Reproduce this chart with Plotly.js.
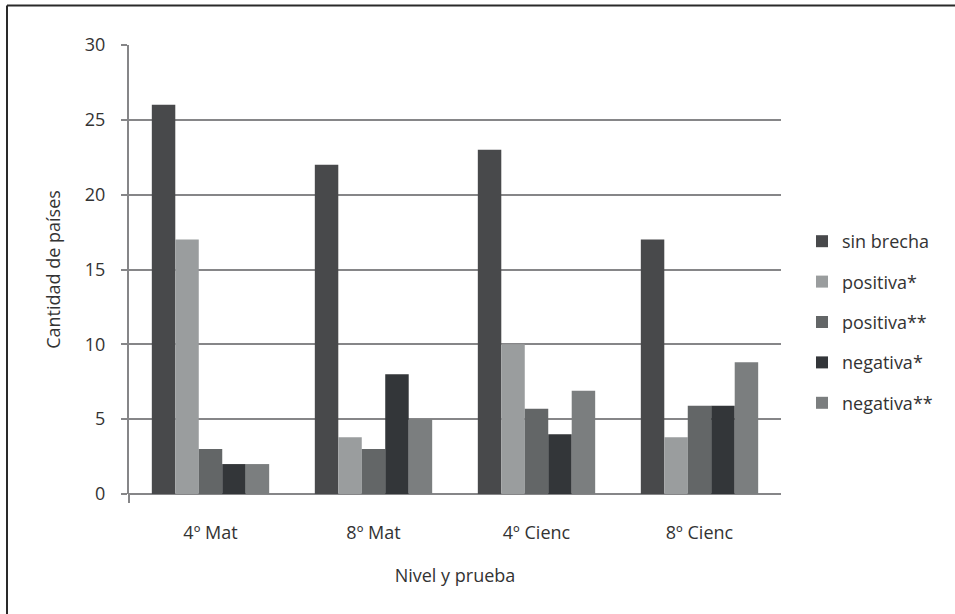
<!DOCTYPE html>
<html>
<head>
<meta charset="utf-8">
<script src="https://cdn.plot.ly/plotly-3.0.1.min.js"></script>
<style>html,body{margin:0;padding:0;background:#fff;}#chart{width:955px;height:614px;}</style>
</head>
<body>
<div id="chart"></div>
<script>
var categories = ["4º Mat", "8º Mat", "4º Cienc", "8º Cienc"];
var seriesNames = ["sin brecha", "positiva*", "positiva**", "negativa*", "negativa**"];
var sinBrecha = [26, 22, 23, 17];
var positiva1 = [17, 3.8, 10, 3.8];
var positiva2 = [3, 3, 5.7, 5.9];
var negativa1 = [2, 8, 4, 5.9];
var negativa2 = [2, 5, 6.9, 8.8];
var yTicks = [0, 5, 10, 15, 20, 25, 30];

var seriesValues = [sinBrecha, positiva1, positiva2, negativa1, negativa2];
var colors = ["#48494b", "#9a9d9e", "#636667", "#333639", "#7b7e7f"];

var traces = seriesNames.map(function (name, i) {
  return {
    type: "bar",
    name: name,
    x: categories,
    y: seriesValues[i],
    marker: { color: colors[i], line: { width: 0 } },
    legendgroup: "g" + i,
    hoverinfo: "x+y+name"
  };
});

var W = 955, H = 614, L = 129, R = 174, T = 45, B = 120;
var pw = W - L - R, ph = H - T - B;
function px2x(p) { return (p - L) / pw; }
function py2y(p) { return (H - B - p) / ph; }

var font = { family: "Open Sans, Noto Sans, sans-serif", size: 18, color: "#333333" };

var layout = {
  width: W, height: H,
  margin: { l: L, r: R, t: T, b: B, pad: 0 },
  paper_bgcolor: "#ffffff", plot_bgcolor: "#ffffff",
  font: font,
  barmode: "group",
  bargap: 0.28,
  bargroupgap: 0,
  showlegend: true,
  legend: {
    x: px2x(802), xanchor: "left",
    y: py2y(223), yanchor: "top",
    font: font,
    traceorder: "grouped",
    tracegroupgap: 14,
    bgcolor: "rgba(0,0,0,0)"
  },
  xaxis: {
    type: "category",
    showgrid: false,
    showline: false,
    ticks: "",
    tickfont: font,
    ticklabelstandoff: 26,
    title: { text: "Nivel y prueba", font: font, standoff: 26 },
    zeroline: false
  },
  yaxis: {
    range: [0, 30],
    tickvals: yTicks,
    ticktext: yTicks.map(String),
    showgrid: true,
    gridcolor: "#868688",
    gridwidth: 2,
    zeroline: true,
    zerolinecolor: "#868688",
    zerolinewidth: 2,
    showline: true,
    linecolor: "#868688",
    linewidth: 2,
    ticks: "outside",
    ticklen: 6,
    tickwidth: 2,
    tickcolor: "#868688",
    tickfont: font,
    ticklabelstandoff: 12,
    title: { text: "Cantidad de países", font: font, standoff: 20 }
  },
  shapes: [
    {
      type: "line", xref: "paper", yref: "paper",
      x0: 0, x1: 0, y0: 0, y1: py2y(503),
      line: { color: "#868688", width: 2 }
    },
    {
      type: "line", xref: "paper", yref: "paper",
      x0: px2x(7), x1: px2x(970), y0: py2y(5.5), y1: py2y(5.5),
      line: { color: "#2a2a2a", width: 2 }
    },
    {
      type: "line", xref: "paper", yref: "paper",
      x0: px2x(7), x1: px2x(7), y0: py2y(5.5), y1: py2y(630),
      line: { color: "#2a2a2a", width: 2 }
    }
  ]
};

Plotly.newPlot("chart", traces, layout, { displayModeBar: false, staticPlot: true });
</script>
</body>
</html>
